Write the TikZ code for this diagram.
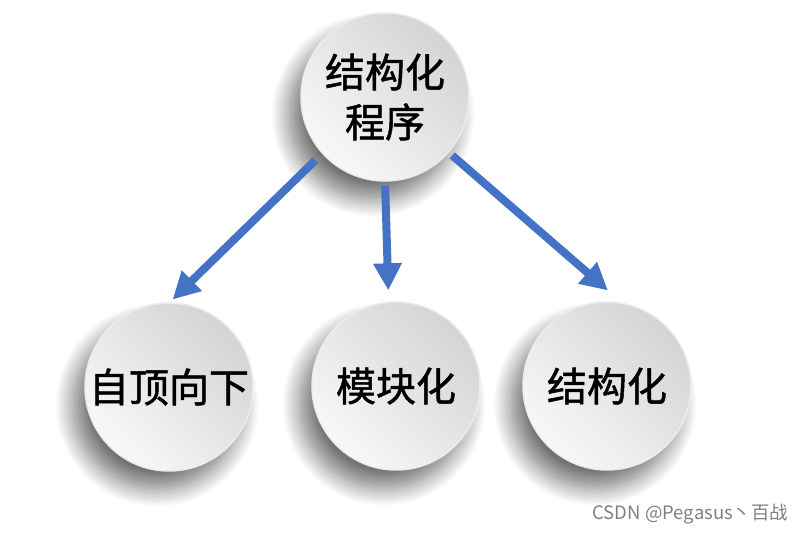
\documentclass[tikz,border=0pt]{standalone}
\usepackage{fontspec}
\newfontfamily\cjk[FakeBold=1.2]{Noto Sans CJK SC}
\newfontfamily\cjkwm{Noto Sans CJK SC}
\usetikzlibrary{arrows.meta,shadows.blur}
\definecolor{arrblue}{RGB}{68,114,196}
\definecolor{ballhi}{RGB}{212,212,212}
\definecolor{balllo}{RGB}{248,248,248}
\definecolor{ballrim}{RGB}{236,236,236}
\tikzset{
  ball/.style={circle, minimum size=168pt, inner sep=0pt, outer sep=0pt,
    top color=ballhi, bottom color=balllo, shading angle=-45,
    draw=ballrim, line width=1.5pt,
    blur shadow={shadow xshift=-12pt, shadow yshift=-18pt, shadow blur radius=18pt, shadow blur steps=20, shadow opacity=55},
    font=\cjk\fontsize{40pt}{50pt}\selectfont, text=black, align=center},
  arr/.style={draw=arrblue, line width=8pt, -{Triangle[width=27pt,length=27pt]}},
  wmark/.style={font=\cjkwm\fontsize{18.5pt}{22pt}\selectfont, text=black!50}
}
\begin{document}
\begin{tikzpicture}[x=1pt,y=-1pt]
\useasboundingbox (0,0) rectangle (807,533);
\node[ball] (top) at (385,97) {结构化\\程序};
\node[ball] (bl) at (169,387) {自顶向下};
\node[ball] (bm) at (396,386) {模块化};
\node[ball] (br) at (607,386) {结构化};
\draw[arr, shorten <=10pt, shorten >=5pt] (top.222) -- (bl.90);
\draw[arr, shorten <=5pt, shorten >=12pt] (top.270) -- (bm.95);
\draw[arr, shorten <=5pt, shorten >=20pt] (top.319) -- (br.79);
\node[wmark, anchor=east] (wm) at (792,514) {CSDN @Pegasus丶百战};
\end{tikzpicture}
\end{document}
